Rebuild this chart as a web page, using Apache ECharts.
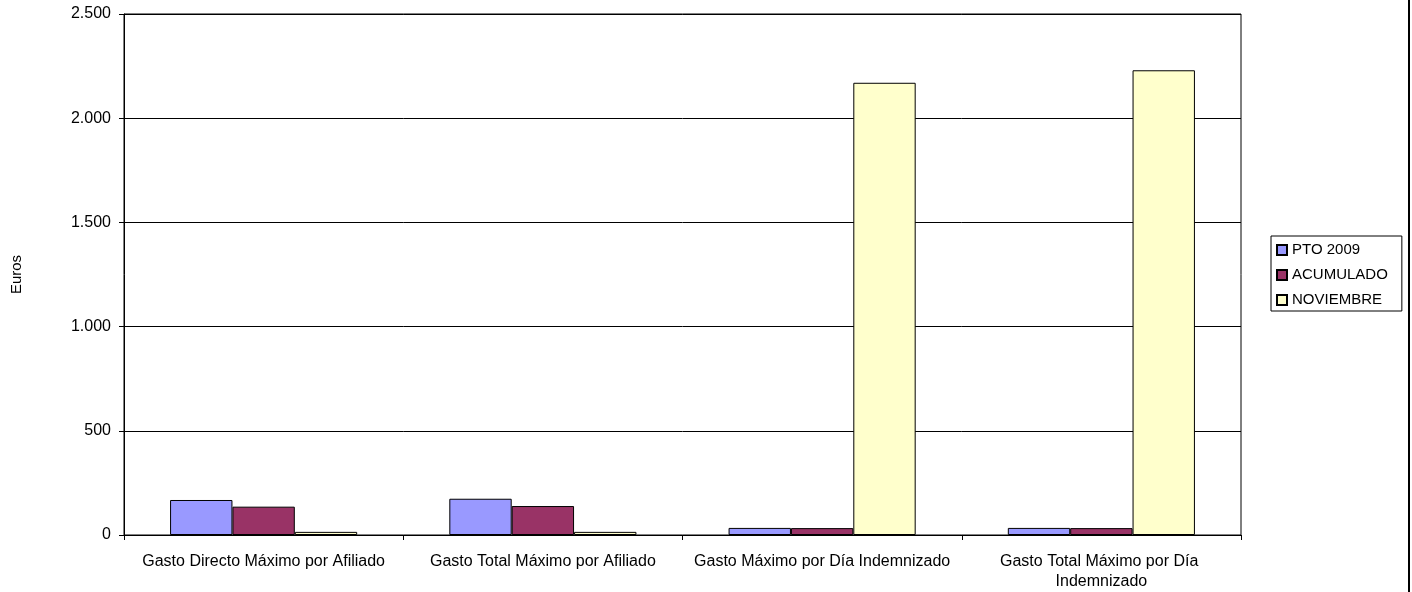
<!DOCTYPE html>
<html>
<head>
<meta charset="utf-8">
<script src="https://cdn.jsdelivr.net/npm/echarts@6/dist/echarts.min.js"></script>
<style>
html,body{margin:0;padding:0;background:#fff;}
#c{width:1412px;height:592px;}
</style>
</head>
<body>
<div id="c"></div>
<script>
const categories = [
  'Gasto Directo Máximo por Afiliado',
  'Gasto Total Máximo por Afiliado',
  'Gasto Máximo por Día Indemnizado',
  'Gasto Total Máximo por Día Indemnizado'
];
const seriesNames = ['PTO 2009', 'ACUMULADO', 'NOVIEMBRE'];
const pto2009 = [168, 174, 34, 34];
const acumulado = [136, 139, 33, 33];
const noviembre = [15, 15, 2170, 2230];
const yTicks = [0, 500, 1000, 1500, 2000, 2500];
const yAxisTitle = 'Euros';

const colors = ['#9999FF', '#993366', '#FFFFCC'];
const font = '"Liberation Sans", Arial, sans-serif';

function fmt(v) {
  return String(v).replace(/\B(?=(\d{3})+(?!\d))/g, '.');
}

const chart = echarts.init(document.getElementById('c'), null, {renderer: 'canvas'});
const dataSets = [pto2009, acumulado, noviembre];

chart.setOption({
  animation: false,
  backgroundColor: '#fff',
  textStyle: {fontFamily: font},
  grid: {
    left: 124, right: 171, top: 14, bottom: 56,
    show: true, borderColor: '#000', borderWidth: 1, backgroundColor: 'transparent'
  },
  legend: {
    orient: 'vertical',
    left: 1271, top: 236,
    padding: [5, 14, 2, 5],
    borderColor: '#000', borderWidth: 1,
    itemWidth: 10, itemHeight: 10, itemGap: 7,
    icon: 'rect',
    textStyle: {fontFamily: font, fontSize: 15, lineHeight: 18, color: '#000'},
    data: seriesNames
  },
  xAxis: {
    type: 'category',
    data: categories,
    axisLine: {lineStyle: {color: '#000', width: 1}},
    axisTick: {show: true, length: 5, interval: 0, lineStyle: {color: '#000'}},
    axisLabel: {
      interval: 0, color: '#000', fontSize: 16, fontFamily: font, margin: 17,
      width: 285, overflow: 'break', lineHeight: 20
    },
    splitLine: {show: false}
  },
  yAxis: {
    type: 'value',
    min: yTicks[0], max: yTicks[yTicks.length - 1], interval: yTicks[1] - yTicks[0],
    name: yAxisTitle,
    nameLocation: 'middle',
    nameGap: 100,
    nameRotate: 90,
    nameTextStyle: {color: '#000', fontSize: 15, fontFamily: font},
    axisLine: {show: true, lineStyle: {color: '#000', width: 1}},
    axisTick: {show: true, length: 5, lineStyle: {color: '#000'}},
    axisLabel: {color: '#000', fontSize: 16, fontFamily: font, margin: 13, formatter: v => fmt(v)},
    splitLine: {show: true, lineStyle: {color: '#000', width: 1}}
  },
  series: seriesNames.map((n, i) => ({
    name: n,
    type: 'bar',
    data: dataSets[i],
    barGap: '0%',
    barCategoryGap: '33%',
    itemStyle: {color: colors[i], borderColor: '#000', borderWidth: 1}
  })),
  graphic: [{
    type: 'line',
    shape: {x1: 1409, y1: 0, x2: 1409, y2: 592},
    style: {stroke: '#000', lineWidth: 2}
  }]
});
</script>
</body>
</html>
